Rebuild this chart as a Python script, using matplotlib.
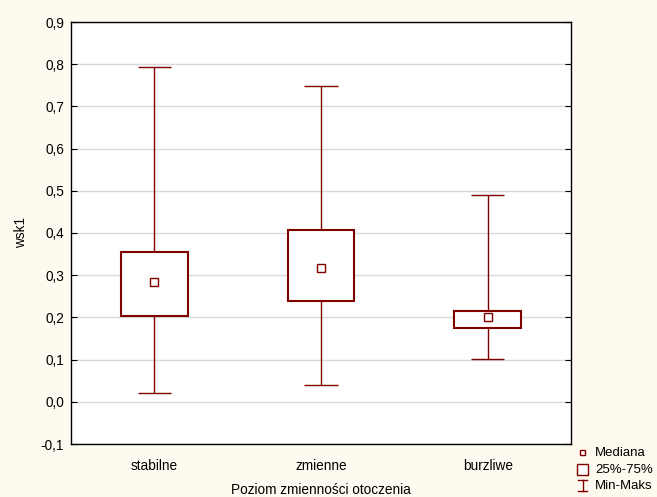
import matplotlib
matplotlib.use("Agg")
import matplotlib.pyplot as plt
from matplotlib.patches import Rectangle
from matplotlib.ticker import FuncFormatter

plt.rcParams['font.family'] = ['Liberation Sans', 'DejaVu Sans']

categories = ["stabilne", "zmienne", "burzliwe"]
q_min = [0.021, 0.040, 0.102]
q1 = [0.204, 0.240, 0.176]
median = [0.284, 0.316, 0.201]
q3 = [0.356, 0.406, 0.214]
q_max = [0.794, 0.749, 0.489]
y_ticks = [-0.1, 0.0, 0.1, 0.2, 0.3, 0.4, 0.5, 0.6, 0.7, 0.8, 0.9]

RED = "#800000"
BG = "#FEFAF0"
FS = 9.8

fig = plt.figure(figsize=(6.57, 4.97), dpi=100, facecolor=BG)
W, H = 657, 497
ax = fig.add_axes([71 / W, 1 - 444 / H, 500 / W, 422 / H])
ax.set_facecolor("white")

box_w = 0.4
cap_w = 0.2
for i, cat in enumerate(categories):
    x = i + 1
    ax.vlines(x, q_min[i], q1[i], color=RED, lw=1.0, zorder=3)
    ax.vlines(x, q3[i], q_max[i], color=RED, lw=1.0, zorder=3)
    ax.hlines([q_min[i], q_max[i]], x - cap_w / 2, x + cap_w / 2, color=RED, lw=1.0, zorder=3)
    ax.add_patch(Rectangle((x - box_w / 2, q1[i]), box_w, q3[i] - q1[i],
                           facecolor="white", edgecolor=RED, lw=1.5, zorder=4))
    ax.plot(x, median[i], marker="s", ms=5.5, mfc="white", mec=RED, mew=1.0, zorder=5)

ax.set_xlim(0.5, 3.5)
ax.set_ylim(-0.1, 0.9)
ax.set_xticks([1, 2, 3])
ax.set_xticklabels(categories)
ax.set_yticks(y_ticks)
ax.yaxis.set_major_formatter(FuncFormatter(lambda v, p: f"{v:.1f}".replace(".", ",").replace("-0,0", "0,0")))
ax.tick_params(axis="x", length=0, labelsize=FS, pad=11)
ax.tick_params(axis="y", direction="in", length=4, labelsize=FS, right=True, labelright=False,
               width=0.8, pad=5)
ax.grid(axis="y", color="#DADADA", lw=1.0, zorder=0)
ax.set_axisbelow(True)
for s in ax.spines.values():
    s.set_color("black")
    s.set_linewidth(1.0)

ax.set_xlabel("Poziom zmienności otoczenia", fontsize=FS, labelpad=7)
ax.set_ylabel("wsk1", fontsize=FS, labelpad=9)

# legend drawn in pixel coordinates
leg = fig.add_axes([0, 0, 1, 1], facecolor="none")
leg.set_xlim(0, W)
leg.set_ylim(H, 0)
leg.axis("off")
leg.add_patch(Rectangle((580, 450), 4.5, 4.5, facecolor="white", edgecolor=RED, lw=1.0))
leg.text(595, 453, "Mediana", fontsize=9.5, va="center")
leg.add_patch(Rectangle((577, 464), 11, 11, facecolor="white", edgecolor=RED, lw=1.0))
leg.text(595, 470, "25%-75%", fontsize=9.5, va="center")
leg.plot([582.5, 582.5], [480, 491], color=RED, lw=1.0)
leg.plot([578, 587], [480, 480], color=RED, lw=1.0)
leg.plot([578, 587], [491, 491], color=RED, lw=1.0)
leg.text(595, 486, "Min-Maks", fontsize=9.5, va="center")

fig.savefig("out.png", dpi=100, facecolor=BG)
